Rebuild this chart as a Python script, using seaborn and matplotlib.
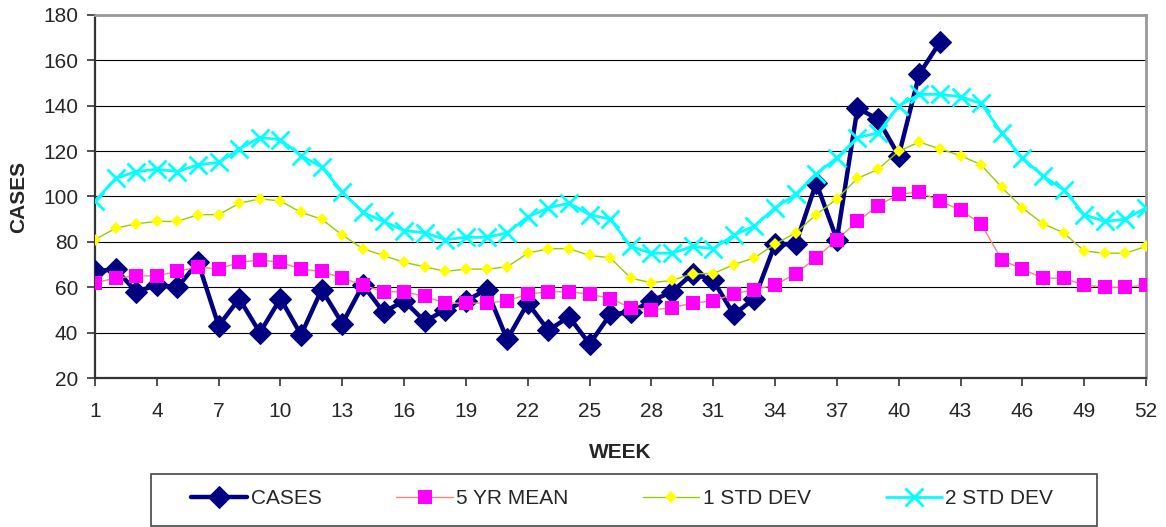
import matplotlib
matplotlib.use("Agg")
import matplotlib.pyplot as plt
from matplotlib.patches import Rectangle
import seaborn as sns
import numpy as np

# ---- data ----
weeks = list(range(1, 53))
week_ticks = list(range(1, 53, 3))
y_ticks = [20, 40, 60, 80, 100, 120, 140, 160, 180]

cases = [67, 68, 58, 61, 60, 71, 43, 55, 40, 55, 39, 59, 44, 61, 49, 54, 45, 50,
         54, 59, 37, 53, 41, 47, 35, 48, 49, 54, 58, 66, 63, 48, 55, 79, 79, 106,
         81, 139, 134, 118, 154, 168]
mean5 = [62, 64, 65, 65, 67, 69, 68, 71, 72, 71, 68, 67, 64, 61, 58, 58, 56, 53,
         53, 53, 54, 57, 58, 58, 57, 55, 51, 50, 51, 53, 54, 57, 59, 61, 66, 73,
         81, 89, 96, 101, 102, 98, 94, 88, 72, 68, 64, 64, 61, 60, 60, 61]
std1 = [81, 86, 88, 89, 89, 92, 92, 97, 99, 98, 93, 90, 83, 77, 74, 71, 69, 67,
        68, 68, 69, 75, 77, 77, 74, 73, 64, 62, 63, 66, 66, 70, 73, 79, 84, 92,
        99, 108, 112, 120, 124, 121, 118, 114, 104, 95, 88, 84, 76, 75, 75, 78]
std2 = [98, 108, 111, 112, 111, 114, 115, 121, 126, 125, 118, 113, 102, 93, 89,
        85, 84, 81, 82, 82, 84, 91, 95, 97, 92, 90, 78, 75, 75, 78, 77, 83, 87,
        95, 101, 110, 117, 126, 128, 140, 145, 145, 144, 141, 128, 117, 109, 103,
        92, 89, 90, 95]

labels = ["CASES", "5 YR MEAN", "1 STD DEV", "2 STD DEV"]

# ---- style ----
sns.set_style("white")
plt.rcParams["font.family"] = ["Liberation Sans", "DejaVu Sans"]

W, H = 1166, 527
fig = plt.figure(figsize=(W / 100, H / 100), dpi=100)
ax = fig.add_axes([95 / W, 1 - 378 / H, (1146 - 95) / W, (378 - 15) / H])

sns.lineplot(x=weeks[:len(cases)], y=cases, ax=ax, color="#000080", lw=3.2,
             marker="D", markersize=11, markeredgecolor="#000080",
             label=labels[0], zorder=3)
sns.lineplot(x=weeks, y=mean5, ax=ax, color="#FF8080", lw=1.0,
             marker="s", markersize=10.5, markerfacecolor="#FF00FF",
             markeredgecolor="#FF00FF", markeredgewidth=0,
             label=labels[1], zorder=4)
sns.lineplot(x=weeks, y=std1, ax=ax, color="#99CC00", lw=1.0,
             marker="D", markersize=6.5, markerfacecolor="#FFFF00",
             markeredgecolor="#FFFF00", markeredgewidth=0,
             label=labels[2], zorder=5)
sns.lineplot(x=weeks, y=std2, ax=ax, color="#00FFFF", lw=2.0,
             marker="x", markersize=13, markeredgecolor="#00FFFF",
             markeredgewidth=2.0, label=labels[3], zorder=6)

handles, labs = ax.get_legend_handles_labels()
if ax.get_legend() is not None:
    ax.get_legend().remove()

ax.set_xlim(1, 52)
ax.set_ylim(20, 180)
ax.set_xticks(week_ticks)
ax.set_xticklabels([str(w) for w in week_ticks])
ax.set_yticks(y_ticks)
ax.set_yticklabels([str(v) for v in y_ticks])

ax.grid(False)
ax.yaxis.grid(True, color="#000000", lw=0.8)
ax.set_axisbelow(True)

for s in ["left", "bottom"]:
    ax.spines[s].set_color("#333333")
    ax.spines[s].set_linewidth(1.6)
for s in ["top", "right"]:
    ax.spines[s].set_color("#999999")
    ax.spines[s].set_linewidth(2.0)

ax.tick_params(axis="x", direction="out", length=6, width=1.2, color="#333333",
               labelsize=15, pad=11, bottom=True)
ax.tick_params(axis="y", direction="out", length=6, width=1.2, color="#333333",
               labelsize=15, pad=6, left=True)

ax.set_xlabel("WEEK", fontsize=15, fontweight="bold")
ax.xaxis.set_label_coords(0.5, (378 - 443) / 363)
ax.set_ylabel("CASES", fontsize=15, fontweight="bold")
ax.yaxis.set_label_coords((28 - 95) / 1051, 0.5)

# legend
fig.legend(handles, labs, ncol=4, loc="center", frameon=False,
           bbox_to_anchor=(622 / W, 1 - 499 / H), fontsize=15,
           handlelength=2.7, handletextpad=0.15, columnspacing=3.6,
           borderaxespad=0, borderpad=0)
fig.patches.append(Rectangle((151 / W, 1 - 526 / H), (1097 - 151) / W, 52 / H,
                             transform=fig.transFigure, fill=False,
                             edgecolor="#444444", lw=1.2))

fig.savefig("out.png", dpi=100)
